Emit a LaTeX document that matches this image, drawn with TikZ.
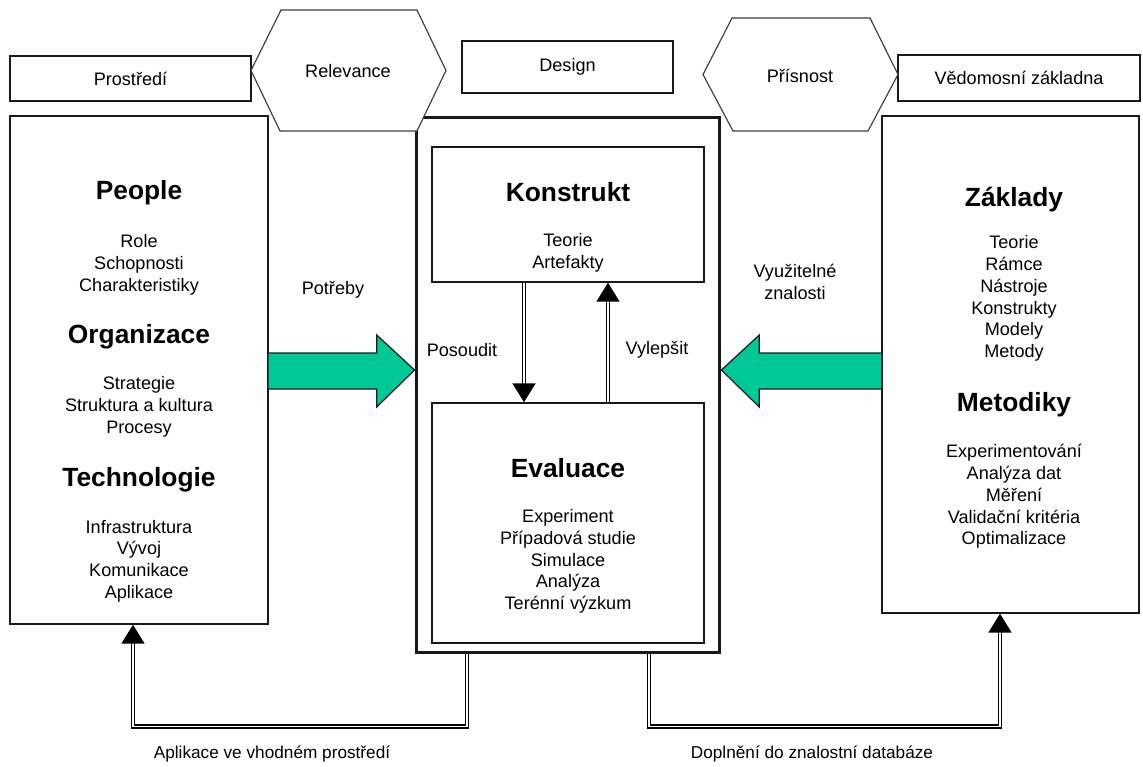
\documentclass[tikz,border=0pt]{standalone}
\usepackage{fontspec}
\setmainfont{Liberation Sans}
\usetikzlibrary{arrows.meta,calc}
\definecolor{dsdark}{HTML}{1a1a1a}
\definecolor{dsgreen}{HTML}{00C997}

\tikzset{
	box/.style={draw=dsdark, line width=0.85pt, fill=white, rectangle, inner sep=0pt},
	head/.style={font=\fontsize{15}{18}\selectfont\bfseries},
	item/.style={font=\fontsize{10.3}{12.4}\selectfont, align=center},
	dbl/.style={draw=black, double=white, line width=0.95pt, double distance=0.9pt, -{Triangle[length=0.38cm,width=0.46cm]}},
	gbody/.style={draw=dsdark, line width=0.7pt, fill=dsgreen, line join=miter},
	hexa/.style={draw=dsdark!85, line width=0.65pt, fill=white}
}

\begin{document}
\begin{tikzpicture}[x=0.02cm, y=-0.02cm]
	\useasboundingbox (0,0) rectangle (1143,767);

	% header boxes
	\node[box, minimum width=4.82cm, minimum height=0.9cm] (prostredi) at (130.5,78.5) {};
	\node[box, minimum width=4.22cm, minimum height=1.04cm] (design) at (567.5,67) {};
	\node[box, minimum width=4.84cm, minimum height=0.92cm] (zakladna) at (1019,78) {};

	% main boxes
	\node[box, minimum width=5.16cm, minimum height=10.16cm] (env) at (139,370) {};
	\node[box, minimum width=5.14cm, minimum height=9.94cm] (kb) at (1010.5,364.5) {};
	\node[box, line width=1.7pt, minimum width=6.08cm, minimum height=10.72cm] (core) at (568,385) {};
	\node[box, minimum width=5.44cm, minimum height=2.7cm] (konstrukt) at (568,214.5) {};
	\node[box, minimum width=5.44cm, minimum height=4.8cm] (evaluace) at (568,523) {};

	% hexagons
	\draw[hexa] (281,10) -- (417,10) -- (446,70.5) -- (417,131) -- (280,131) -- (251,70.5) -- cycle;
	\draw[hexa] (732,18) -- (870,18) -- (898,74.5) -- (868,131) -- (733,131) -- (703,74.5) -- cycle;

	% header texts
	\node[item] (tprostredi) at (prostredi) {Prostředí};
	\node[item] (trelevance) at (348,71) {Relevance};
	\node[item] (tdesign) at (design) {Design};
	\node[item] (tprisnost) at (800,76) {Přísnost};
	\node[item] (tzakladna) at (zakladna) {Vědomosní základna};

	% environment
	\node[head] (people) at (139,193) {People};
	\node[item] (lpeople) at (139,265) {Role\\Schopnosti\\Charakteristiky};
	\node[head] (org) at (139,337) {Organizace};
	\node[item] (lorg) at (139,407) {Strategie\\Struktura a kultura\\Procesy};
	\node[head] (tech) at (139,480) {Technologie};
	\node[item] (ltech) at (139,561) {Infrastruktura\\Vývoj\\Komunikace\\Aplikace};

	% design core
	\node[head] (hkonstrukt) at (568,192) {Konstrukt};
	\node[item] (lkonstrukt) at (568,253) {Teorie\\Artefakty};
	\node[head] (hevaluace) at (568,468) {Evaluace};
	\node[item] (levaluace) at (568,561.5) {Experiment\\Případová studie\\Simulace\\Analýza\\Terénní výzkum};

	% knowledge base
	\node[head] (zaklady) at (1014,200) {Základy};
	\node[item] (lzaklady) at (1014,298.5) {Teorie\\Rámce\\Nástroje\\Konstrukty\\Modely\\Metody};
	\node[head] (metodiky) at (1014,405) {Metodiky};
	\node[item] (lmetodiky) at (1014,496.5) {Experimentování\\Analýza dat\\Měření\\Validační kritéria\\Optimalizace};

	% green arrows
	\draw[gbody] ($(env.east)+(0,-17)$) -- ++(108,0) -- ++(0,-18) -- (env.east -| core.west)
		-- ($(env.east)+(108,37)$) -- ++(0,-18) -- ($(env.east)+(0,19)$);
	\draw[gbody] ($(kb.west |- env.east)+(0,-17)$) -- ++(-122,0) -- ++(0,-18) -- (env.east -| core.east)
		-- ($(kb.west |- env.east)+(-122,37)$) -- ++(0,-18) -- ($(kb.west |- env.east)+(0,19)$);

	% cycle between construct and evaluation
	\draw[dbl] ([xshift=-0.88cm]konstrukt.south) -- ([xshift=-0.88cm]evaluace.north);
	\draw[dbl] ([xshift=0.8cm]evaluace.north) -- ([xshift=0.8cm]konstrukt.south);

	% relevance and rigor cycles
	\draw[dbl] ([xshift=-2.02cm]core.south) -- ++(0,72) -| ([xshift=-0.12cm]env.south);
	\draw[dbl] ([xshift=1.62cm]core.south) -- ++(0,72) -| ([xshift=-0.21cm]kb.south);

	% labels
	\node[item] (potreby) at (333,290) {Potřeby};
	\node[item] (posoudit) at (462,350) {Posoudit};
	\node[item] (vylepsit) at (657,350) {Vylepšit};
	\node[item] (vyuzitelne) at (795,282) {Využitelné\\znalosti};
	\node[item, font=\fontsize{9.8}{12}\selectfont] (aplikace) at (272,754) {Aplikace ve vhodném prostředí};
	\node[item, font=\fontsize{9.8}{12}\selectfont] (doplneni) at (812,754) {Doplnění do znalostní databáze};
\end{tikzpicture}
\end{document}
